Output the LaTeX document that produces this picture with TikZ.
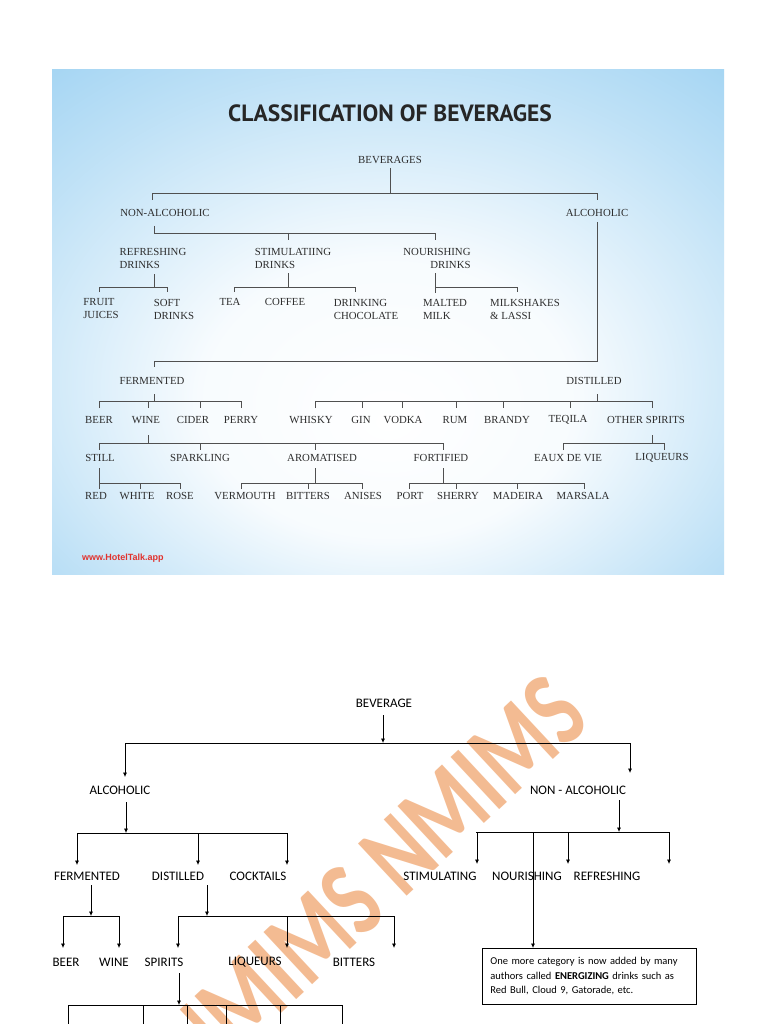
\documentclass[tikz,border=0pt]{standalone}
\usepackage{fontspec}
\setmainfont{Liberation Serif}
\newfontfamily\headfont{PT Sans}
\newfontfamily\calfont{Carlito}
\newfontfamily\webfont{Liberation Sans}
\usetikzlibrary{arrows.meta}

\definecolor{skyedge}{RGB}{128,196,238}
\definecolor{toptext}{RGB}{45,45,45}
\definecolor{topline}{RGB}{80,80,80}
\definecolor{wmark}{RGB}{242,176,128}
\definecolor{webred}{RGB}{225,50,45}

\pgfdeclareradialshading{panelglow}{\pgfpoint{0bp}{-10bp}}{%
  color(0bp)=(white); color(14bp)=(white!94!skyedge);
  color(30bp)=(skyedge!50!white); color(46bp)=(skyedge!90!white); color(60bp)=(skyedge)}

\begin{document}
\begin{tikzpicture}[x=1pt,y=-1pt,
  top/.style={font=\fontsize{10.8}{13}\selectfont, text=toptext, inner sep=0pt},
  tline/.style={draw=topline, line width=0.7pt},
  low/.style={font=\calfont\fontsize{13}{15}\selectfont, inner sep=0pt},
  >={Latex[length=4.5pt,width=4pt]},
  arr/.style={->, line width=0.7pt}]

  \useasboundingbox (0,0) rectangle (768,1024);
  \fill[white] (0,0) rectangle (768,1024);
  \shade[shading=panelglow] (52,70) rectangle (724,574);

  \node[font=\headfont\bfseries\fontsize{23.5}{26}\selectfont, text=black!85] (title) at (390,113) {CLASSIFICATION OF BEVERAGES};
  \node[top] (bev) at (390,160) {BEVERAGES};
  \node[top] (nonalc) at (165,213) {NON-ALCOHOLIC};
  \node[top] (alc) at (597,213) {ALCOHOLIC};
  \node[top, align=left] (refresh) at (153,258) {REFRESHING\\DRINKS};
  \node[top, align=left] (stim) at (293,258) {STIMULATIING\\DRINKS};
  \node[top, align=right] (nour) at (437,258) {NOURISHING\\DRINKS};
  \node[top, align=left] (fruit) at (101,309) {FRUIT\\JUICES};
  \node[top, align=left] (soft) at (174,309) {SOFT\\DRINKS};
  \node[top] (tea) at (230,302) {TEA};
  \node[top] (coffee) at (285,302) {COFFEE};
  \node[top, align=left] (choc) at (366,309) {DRINKING\\CHOCOLATE};
  \node[top, align=left] (malted) at (445,309) {MALTED\\MILK};
  \node[top, align=left] (shakes) at (525,309) {MILKSHAKES\\\& LASSI};
  \node[top] (ferm) at (152,381) {FERMENTED};
  \node[top] (dist) at (594,381) {DISTILLED};
  \node[top] (beer) at (99,420) {BEER};
  \node[top] (wine) at (146,420) {WINE};
  \node[top] (cider) at (193,420) {CIDER};
  \node[top] (perry) at (241,420) {PERRY};
  \node[top] (whisky) at (311,420) {WHISKY};
  \node[top] (gin) at (361,420) {GIN};
  \node[top] (vodka) at (403,420) {VODKA};
  \node[top] (rum) at (455,420) {RUM};
  \node[top] (brandy) at (507,420) {BRANDY};
  \node[top] (teqila) at (568,420) {TEQILA};
  \node[top] (other) at (646,420) {OTHER SPIRITS};
  \node[top] (still) at (100,458) {STILL};
  \node[top] (sparkling) at (200,458) {SPARKLING};
  \node[top] (aromatised) at (322,458) {AROMATISED};
  \node[top] (fortified) at (441,458) {FORTIFIED};
  \node[top] (eaux) at (568,458) {EAUX DE VIE};
  \node[top] (liqueurs) at (662,458) {LIQUEURS};
  \node[top] (red) at (96,496) {RED};
  \node[top] (white) at (137,496) {WHITE};
  \node[top] (rose) at (180,496) {ROSE};
  \node[top] (vermouth) at (245,496) {VERMOUTH};
  \node[top] (bitters) at (308,496) {BITTERS};
  \node[top] (anises) at (363,496) {ANISES};
  \node[top] (port) at (410,496) {PORT};
  \node[top] (sherry) at (458,496) {SHERRY};
  \node[top] (madeira) at (518,496) {MADEIRA};
  \node[top] (marsala) at (583,496) {MARSALA};
  \node[font=\webfont\bfseries\fontsize{9}{10}\selectfont, text=webred, anchor=west, inner sep=0pt] (site) at (82,558) {www.HotelTalk.app};

  \draw[tline] (390,168) -- (390,193);
  \draw[tline] (152,200) -- (152,193) -- (597,193) -- (597,200);
  \draw[tline] (154,226) -- (154,233) -- (435,233) -- (435,240);
  \draw[tline] (288,233) -- (288,240);
  \draw[tline] (154,274) -- (154,287);
  \draw[tline] (99,292) -- (99,287) -- (167,287) -- (167,292);
  \draw[tline] (288,273) -- (288,287);
  \draw[tline] (234,292) -- (234,287) -- (355,287) -- (355,292);
  \draw[tline] (435,273) -- (435,293);
  \draw[tline] (435,287) -- (517,287) -- (517,292);
  \draw[tline] (597,222) -- (597,361) -- (154,361) -- (154,367);
  \draw[tline] (154,394) -- (154,401);
  \draw[tline] (99,408) -- (99,401) -- (241,401) -- (241,408);
  \foreach \x in {148,200} \draw[tline] (\x,401) -- (\x,408);
  \draw[tline] (597,394) -- (597,401);
  \draw[tline] (315,408) -- (315,401) -- (652,401) -- (652,408);
  \foreach \x in {362,402,456,503,570} \draw[tline] (\x,401) -- (\x,408);
  \draw[tline] (148,435) -- (148,443);
  \draw[tline] (99,450) -- (99,443) -- (443,443) -- (443,450);
  \foreach \x in {200,315} \draw[tline] (\x,443) -- (\x,450);
  \draw[tline] (652,435) -- (652,443);
  \draw[tline] (563,450) -- (563,443) -- (664,443) -- (664,450);
  \draw[tline] (99,468) -- (99,489);
  \draw[tline] (99,483) -- (180,483) -- (180,489);
  \draw[tline] (140,483) -- (140,489);
  \draw[tline] (315,468) -- (315,483);
  \draw[tline] (241,489) -- (241,483) -- (362,483) -- (362,489);
  \draw[tline] (308,483) -- (308,489);
  \draw[tline] (443,468) -- (443,483);
  \draw[tline] (409,489) -- (409,483) -- (584,483) -- (584,489);
  \foreach \x in {456,517} \draw[tline] (\x,483) -- (\x,489);

  \node[rotate=43, xscale=0.75, text=wmark, font=\calfont\bfseries\fontsize{110}{110}\selectfont, inner sep=0pt, opacity=0.85] (wm) at (372,880) {NMIMS NMIMS};

  \node[low] (bev2) at (384,703) {BEVERAGE};
  \node[low] (alc2) at (120,790) {ALCOHOLIC};
  \node[low] (nalc2) at (578,790) {NON - ALCOHOLIC};
  \node[low] (ferm2) at (87,876) {FERMENTED};
  \node[low] (dist2) at (178,876) {DISTILLED};
  \node[low] (cock2) at (258,876) {COCKTAILS};
  \node[low] (stim2) at (440,876) {STIMULATING};
  \node[low] (nour2) at (527,876) {NOURISHING};
  \node[low] (refr2) at (607,876) {REFRESHING};
  \node[low] (beer2) at (66,962) {BEER};
  \node[low] (wine2) at (114,962) {WINE};
  \node[low] (spir2) at (164,962) {SPIRITS};
  \node[low] (liq2) at (255,962) {LIQUEURS};
  \node[low] (bit2) at (354,962) {BITTERS};
  \node[draw, line width=0.7pt, anchor=north west, text width=198pt, inner xsep=8pt, inner ysep=0pt,
        minimum height=56pt, align=left, font=\calfont\fontsize{10.5}{14.5}\selectfont] (note) at (482,948)
        {One more category is now added by many\\authors called \textbf{ENERGIZING} drinks such as\\Red Bull, Cloud 9, Gatorade, etc.};

  \coordinate (b0) at (383,743);
  \coordinate (b1) at (126,833);
  \coordinate (b2) at (619,832);
  \coordinate (b3) at (91,916);
  \coordinate (b4) at (207,916);
  \coordinate (b5) at (179,1005);
  \coordinate (b6) at (533,832);

  \draw[arr] (383,715) -- (b0);
  \draw[line width=0.7pt] (125,743) -- (630,743);
  \draw[arr] (125,743) -- (125,777);
  \draw[arr] (630,743) -- (630,773);

  \draw[arr] (126,802) -- (b1);
  \draw[line width=0.7pt] (77,833) -- (287,833);
  \foreach \x in {77,198,287} \draw[arr] (\x,833) -- (\x,865);

  \draw[arr] (619,800) -- (b2);
  \draw[line width=0.7pt] (476,832) -- (669,832);
  \foreach \x in {477,568,669} \draw[arr] (\x,832) -- (\x,864);
  \draw[arr] (b6) -- (b6 |- note.north);

  \draw[arr] (91,885) -- (b3);
  \draw[line width=0.7pt] (63,916) -- (119,916);
  \foreach \x in {63,119} \draw[arr] (\x,916) -- (\x,948);

  \draw[arr] (207,885) -- (b4);
  \draw[line width=0.7pt] (178,916) -- (394,916);
  \foreach \x in {178,287,394} \draw[arr] (\x,916) -- (\x,948);

  \draw[arr] (179,973) -- (b5);
  \draw[line width=0.7pt] (68,1005) -- (342,1005);
  \foreach \x in {68,143,187,226,280,342} \draw[line width=0.7pt] (\x,1005) -- (\x,1024);
\end{tikzpicture}
\end{document}
